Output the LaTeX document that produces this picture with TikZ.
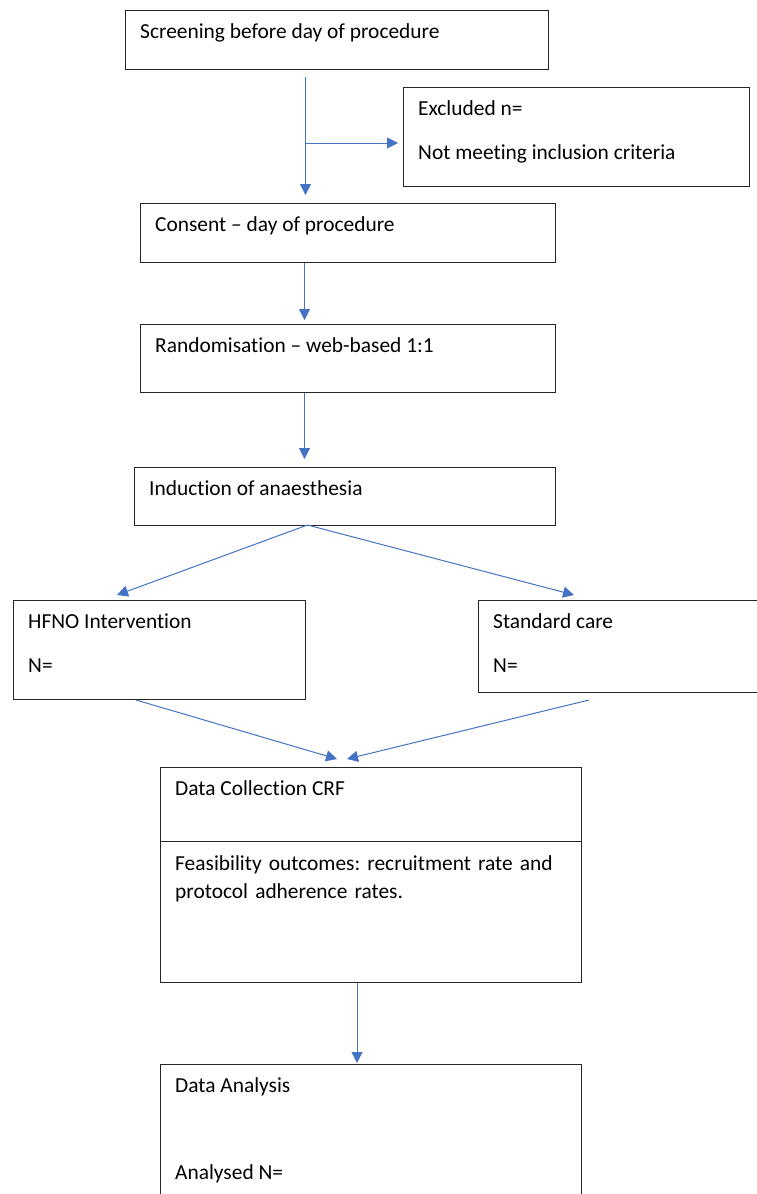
\documentclass[tikz,border=0pt]{standalone}
\usepackage{fontspec}
\setmainfont{Carlito}[Ligatures=NoCommon]
\usepackage{xcolor}
\usetikzlibrary{arrows.meta, calc, positioning}
\definecolor{flowblue}{HTML}{4472C4}
\frenchspacing

\begin{document}
\begin{tikzpicture}[
    x=1pt, y=-1pt,
    every node/.style={font=\fontsize{21.4}{28}\selectfont},
    box/.style={rectangle, draw=black!85, line width=1pt, outer sep=0pt, inner sep=0pt, anchor=north west},
    txt/.style={anchor=base west, inner sep=0pt, align=left},
    arrow/.style={-{Triangle[length=11pt, width=11pt]}, draw=flowblue, line width=1pt}
]
\useasboundingbox (0,0) rectangle (757,1194);

% boxes
\node[box, minimum width=423pt, minimum height=59pt] (screen) at (125,10) {};
\node[box, minimum width=346pt, minimum height=99pt] (excl) at (403,87) {};
\node[box, minimum width=415pt, minimum height=59pt] (consent) at (140,203) {};
\node[box, minimum width=415pt, minimum height=68pt] (rand) at (140,324) {};
\node[box, minimum width=421pt, minimum height=58pt] (induct) at (134,467) {};
\node[box, minimum width=292pt, minimum height=99pt] (hfno) at (13,600) {};
\node[box, minimum width=300pt, minimum height=92pt] (std) at (478,600) {};
\node[box, minimum width=421pt, minimum height=215pt] (collect) at (160,767) {};
\node[box, minimum width=421pt, minimum height=150pt] (analysis) at (160,1064) {};
\draw[black!85, line width=1pt] ($(collect.north west)+(0,74)$) -- ($(collect.north east)+(0,74)$);

% texts
\node[txt] (screenT) at ($(screen.north west)+(15,28)$) {Screening before day of procedure};
\node[txt] (exclT) at ($(excl.north west)+(15,28.5)$) {Excluded n=};
\node[txt] (exclT2) at ($(excl.north west)+(15,72)$) {Not meeting inclusion criteria};
\node[txt] (consentT) at ($(consent.north west)+(15,28.5)$) {Consent -- day of procedure};
\node[txt] (randT) at ($(rand.north west)+(15,28.5)$) {Randomisation -- web-based 1:1};
\node[txt] (inductT) at ($(induct.north west)+(15,28.5)$) {Induction of anaesthesia};
\node[txt] (hfnoT) at ($(hfno.north west)+(15,28.5)$) {HFNO Intervention};
\node[txt] (hfnoN) at ($(hfno.north west)+(15,72)$) {N=};
\node[txt] (stdT) at ($(std.north west)+(15,28.5)$) {Standard care};
\node[txt] (stdN) at ($(std.north west)+(15,72)$) {N=};
\node[txt] (collectT) at ($(collect.north west)+(15,28.5)$) {Data Collection CRF};
\node[txt, text width=390pt] (feasT) at ($(collect.north west)+(15,103)$) {Feasibility outcomes: recruitment rate and\\protocol adherence rates.};
\node[txt] (analysisT) at ($(analysis.north west)+(15,28.5)$) {Data Analysis};
\node[txt] (analysisN) at ($(analysis.north west)+(15,115)$) {Analysed N=};

% connectors
\coordinate (split) at ([xshift=-31pt,yshift=-74pt]screen.south);
\draw[arrow] ([xshift=-31pt,yshift=-8pt]screen.south) -- ([xshift=-42pt,yshift=8pt]consent.north);
\draw[arrow, shorten >=5pt] (split) -- (split -| excl.west);
\draw[arrow] ([xshift=-43pt,yshift=-1pt]consent.south) -- ([xshift=-43pt,yshift=4pt]rand.north);
\draw[arrow] ([xshift=-43pt,yshift=-1pt]rand.south) -- ([xshift=-40pt,yshift=8pt]induct.north);
\draw[arrow] ([xshift=-37pt]induct.south) -- ([xshift=-42pt,yshift=5pt]hfno.north);
\draw[arrow] ([xshift=-37pt]induct.south) -- ([xshift=-54pt,yshift=5pt]std.north);
\draw[arrow] ([xshift=-23pt,yshift=-1pt]hfno.south) -- ([xshift=-33.5pt,yshift=8pt]collect.north);
\draw[arrow] ([xshift=-39pt,yshift=-8pt]std.south) -- ([xshift=-23.5pt,yshift=8pt]collect.north);
\draw[arrow] ([xshift=-13.5pt,yshift=-1pt]collect.south) -- ([xshift=-13.5pt,yshift=1pt]analysis.north);
\end{tikzpicture}
\end{document}
